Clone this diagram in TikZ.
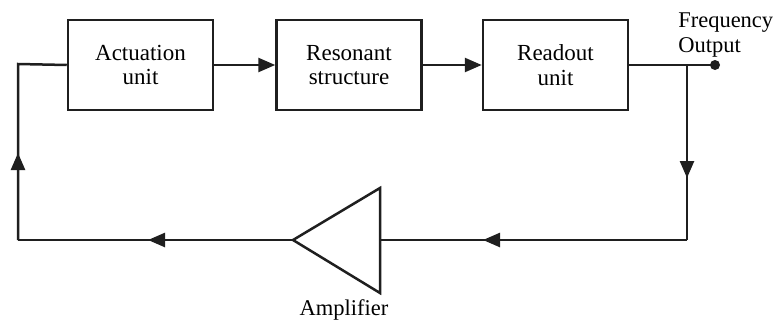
\documentclass[tikz,border=0pt]{standalone}
\usepackage{fontspec}
\setmainfont{Liberation Serif}
\usetikzlibrary{arrows.meta,decorations.markings}
\begin{document}
\begin{tikzpicture}[x=1pt,y=-1pt,
  line width=2.5pt, draw=black!88,
  blockbox/.style={draw, line width=2.5pt, minimum width=145pt, minimum height=90pt,
    inner sep=0pt, align=center, font=\fontsize{23}{24.5}\selectfont},
  lbl/.style={inner sep=0pt, font=\fontsize{22.5}{25}\selectfont},
  tip/.style={-{Triangle[length=17pt,width=14pt]}},
  midtip/.style={postaction={decorate},
    decoration={markings, mark=at position #1 with {\arrow{Triangle[length=17pt,width=14pt]}}}},
  outdot/.style={circle, fill=black!88, inner sep=0pt, minimum size=10pt}]
\useasboundingbox (0,0) rectangle (775,324);

% forward chain
\node[blockbox] (act)  at (140.5,65) {Actuation\\unit};
\node[blockbox] (res)  at (349,65)   {Resonant\\structure};
\node[blockbox] (read) at (555.5,65) {Readout\\unit};

\draw[tip] (act.east) -- (res.west);
\draw[tip] (res.east) -- (read.west);

% output terminal
\coordinate (br) at (687,65);
\node[outdot] (out) at (715,65) {};
\draw (read.east) -- (out.center);
\node[lbl, anchor=north west, align=left] (freq) at (677,12) {Frequency\\Output};

% amplifier
\coordinate (ampL) at (293,240);
\coordinate (ampT) at (380,188);
\coordinate (ampB) at (380,293);
\coordinate (ampR) at (380,240);
\draw[line join=miter] (ampL) -- (ampT) -- (ampB) -- cycle;
\node[lbl, anchor=base] (amplbl) at (344,315) {Amplifier};

% feedback loop
\coordinate (c1) at (687,240);
\coordinate (c2) at (18,240);
\coordinate (c3) at (18,64);
\draw[midtip=113pt] (br) -- (c1);
\draw[midtip=204pt] (c1) -- (ampR);
\draw[midtip=145pt] (ampL) -- (c2);
\draw[midtip=87pt] (c2) -- (c3);
\draw (c2) -- (c3) -- (act.west);
\end{tikzpicture}
\end{document}
